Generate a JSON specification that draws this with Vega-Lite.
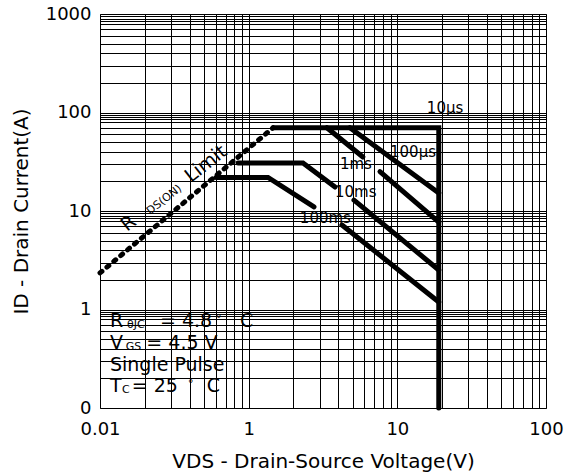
{
  "$schema": "https://vega.github.io/schema/vega-lite/v6.json",
  "width": 446,
  "height": 394,
  "autosize": {"type": "none"},
  "padding": {"left": 100, "top": 14, "right": 25, "bottom": 66},
  "background": "white",
  "datasets": {
    "curves": [
      {"seg": "10us", "k": 0, "v": 1.46, "i": 70},
      {"seg": "10us", "k": 1, "v": 19, "i": 70},
      {"seg": "10us", "k": 2, "v": 19, "i": 0.1},
      {"seg": "100us", "k": 0, "v": 4.8, "i": 70},
      {"seg": "100us", "k": 1, "v": 19, "i": 15.2},
      {"seg": "1ms-a", "k": 0, "v": 3.36, "i": 70},
      {"seg": "1ms-a", "k": 1, "v": 5.87, "i": 35.3},
      {"seg": "1ms-b", "k": 0, "v": 7.64, "i": 25.1},
      {"seg": "1ms-b", "k": 1, "v": 19, "i": 7.7},
      {"seg": "10ms-a", "k": 0, "v": 0.848, "i": 30.7},
      {"seg": "10ms-a", "k": 1, "v": 2.32, "i": 30.7},
      {"seg": "10ms-a", "k": 2, "v": 3.81, "i": 17.5},
      {"seg": "10ms-b", "k": 0, "v": 5.11, "i": 12.9},
      {"seg": "10ms-b", "k": 1, "v": 19, "i": 2.52},
      {"seg": "100ms-a", "k": 0, "v": 0.603, "i": 21.9},
      {"seg": "100ms-a", "k": 1, "v": 1.35, "i": 21.9},
      {"seg": "100ms-a", "k": 2, "v": 2.75, "i": 11},
      {"seg": "100ms-b", "k": 0, "v": 4.24, "i": 7.21},
      {"seg": "100ms-b", "k": 1, "v": 19, "i": 1.19}
    ],
    "rdsLimit": [
      {"k": 0, "v": 0.1, "i": 2.35},
      {"k": 1, "v": 1.46, "i": 70}
    ],
    "pulseLabels": [
      {"t": "10µs", "v": 15.8, "i": 98.9},
      {"t": "100µs", "v": 8.93, "i": 35.3},
      {"t": "1ms", "v": 4.11, "i": 26.7},
      {"t": "10ms", "v": 3.81, "i": 13.9},
      {"t": "100ms", "v": 2.21, "i": 7.55}
    ],
    "condMain": [
      {"t": "R", "v": 0.1167, "i": 0.669},
      {"t": "= 4.8", "v": 0.253, "i": 0.669},
      {"t": "C", "v": 0.874, "i": 0.669},
      {"t": "V", "v": 0.1167, "i": 0.397},
      {"t": "= 4.5 V", "v": 0.205, "i": 0.397},
      {"t": "Single Pulse", "v": 0.1167, "i": 0.24},
      {"t": "T", "v": 0.1167, "i": 0.1464},
      {"t": "= 25", "v": 0.1634, "i": 0.1464},
      {"t": "C", "v": 0.522, "i": 0.1464}
    ],
    "condSub": [
      {"t": "θJC", "v": 0.152, "i": 0.669},
      {"t": "GS", "v": 0.149, "i": 0.397},
      {"t": "C", "v": 0.1406, "i": 0.1464}
    ],
    "condSup": [
      {"t": "°", "v": 0.603, "i": 0.669},
      {"t": "°", "v": 0.391, "i": 0.1464}
    ],
    "rdsMain": [
      {"t": "R", "v": 0.152, "i": 6.12},
      {"t": "Limit", "v": 0.409, "i": 19.25}
    ],
    "rdsSub": [
      {"t": "DS(ON)", "v": 0.217, "i": 9.11}
    ]
  },
  "encoding": {
    "x": {
      "field": "v",
      "type": "quantitative",
      "scale": {"type": "log", "domain": [0.1, 100], "nice": false},
      "axis": {
        "values": [0.1, 0.2, 0.3, 0.4, 0.5, 0.6, 0.7, 0.8, 0.9, 1, 2, 3, 4, 5, 6, 7, 8, 9, 10, 20, 30, 40, 50, 60, 70, 80, 90, 100],
        "labelExpr": "datum.value == 0.1 ? '0.01' : (datum.value == 1 || datum.value == 10 || datum.value == 100 ? format(datum.value, 'd') : '')",
        "title": "VDS - Drain-Source Voltage(V)",
        "labelPadding": 12,
        "titlePadding": 13
      }
    },
    "y": {
      "field": "i",
      "type": "quantitative",
      "scale": {"type": "log", "domain": [0.1, 1000], "nice": false},
      "axis": {
        "values": [0.1, 0.2, 0.3, 0.4, 0.5, 0.6, 0.7, 0.8, 0.85, 0.9, 0.95, 1, 2, 3, 4, 5, 6, 7, 8, 8.5, 9, 9.5, 10, 20, 30, 40, 50, 60, 70, 80, 85, 90, 95, 100, 200, 300, 400, 500, 600, 700, 800, 850, 900, 950, 1000],
        "labelExpr": "indexof([0.1, 1, 10, 100, 1000], datum.value) >= 0 ? format(datum.value, '.0f') : ''",
        "title": "ID - Drain Current(A)",
        "labelPadding": 9,
        "titlePadding": 14
      }
    }
  },
  "layer": [
    {
      "data": {"name": "curves"},
      "mark": {"type": "line", "color": "black", "strokeWidth": 5, "strokeCap": "round", "strokeJoin": "miter"},
      "encoding": {"detail": {"field": "seg"}, "order": {"field": "k"}}
    },
    {
      "data": {"name": "rdsLimit"},
      "mark": {"type": "line", "color": "black", "strokeWidth": 5, "strokeCap": "round", "strokeDash": [2.5, 6.5]},
      "encoding": {"order": {"field": "k"}}
    },
    {
      "data": {"name": "pulseLabels"},
      "mark": {"type": "text", "align": "left", "baseline": "alphabetic", "font": "DejaVu Sans", "fontSize": 15, "color": "black"},
      "encoding": {"text": {"field": "t"}}
    },
    {
      "data": {"name": "condMain"},
      "mark": {"type": "text", "align": "left", "baseline": "alphabetic", "font": "DejaVu Sans", "fontSize": 19, "color": "black"},
      "encoding": {"text": {"field": "t"}}
    },
    {
      "data": {"name": "condSub"},
      "mark": {"type": "text", "align": "left", "baseline": "alphabetic", "font": "DejaVu Sans", "fontSize": 11, "dy": 1, "color": "black"},
      "encoding": {"text": {"field": "t"}}
    },
    {
      "data": {"name": "condSup"},
      "mark": {"type": "text", "align": "left", "baseline": "alphabetic", "font": "DejaVu Sans", "fontSize": 11, "dy": -5, "color": "black"},
      "encoding": {"text": {"field": "t"}}
    },
    {
      "data": {"name": "rdsMain"},
      "mark": {"type": "text", "align": "left", "baseline": "alphabetic", "angle": -38, "font": "DejaVu Sans", "fontSize": 19, "color": "black"},
      "encoding": {"text": {"field": "t"}}
    },
    {
      "data": {"name": "rdsSub"},
      "mark": {"type": "text", "align": "left", "baseline": "alphabetic", "angle": -38, "font": "DejaVu Sans", "fontSize": 11, "color": "black"},
      "encoding": {"text": {"field": "t"}}
    }
  ],
  "config": {
    "view": {"stroke": "#555", "strokeWidth": 1},
    "axis": {
      "grid": true,
      "gridColor": "#000",
      "gridWidth": 1,
      "gridOpacity": 1,
      "ticks": false,
      "domain": false,
      "labelFont": "DejaVu Sans",
      "labelFontSize": 18,
      "labelColor": "#000",
      "labelFlush": false,
      "labelBound": false,
      "labelOverlap": false,
      "titleFont": "DejaVu Sans",
      "titleFontSize": 20,
      "titleFontWeight": "normal",
      "titleColor": "#000"
    }
  }
}
